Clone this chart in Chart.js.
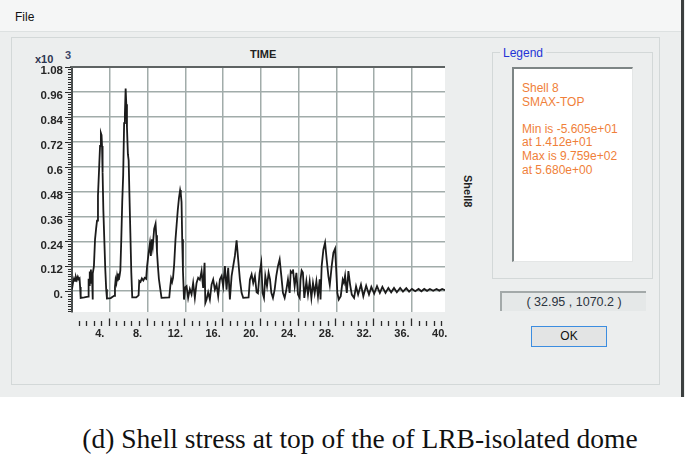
<!DOCTYPE html>
<html>
<head>
<meta charset="utf-8">
<script src="https://cdn.jsdelivr.net/npm/chart.js@4.4.1/dist/chart.umd.min.js"></script>
<style>
  body { margin: 0; width: 685px; height: 460px; background: #fff; position: relative; overflow: hidden;
         font-family: "Liberation Sans", Arial, sans-serif; }
  .abs { position: absolute; }
  #win { left: 0; top: 0; width: 685px; height: 397px; background: #eceeee; }
  #menubar { left: 0; top: 0; width: 681px; height: 31px; background: #f5f6f6; border-bottom: 1px solid #dde1e1; }
  #edge { left: 681px; top: 0; width: 3px; height: 397px; background: #3b3f3f; }
  #frame { left: 11px; top: 37px; width: 647px; height: 346px; border: 1px solid #d3d8d8; }
  #file { left: 15px; top: 10px; font-size: 12px; color: #111; }
  .bold { font-weight: bold; font-size: 11px; color: #222; }
  #groupbox { left: 492px; top: 52px; width: 159px; height: 225px; border: 1px solid #d3d8d8; }
  #legendTitle { left: 500px; top: 46px; padding: 0 3px; background: #eceeee; font-size: 12px; color: #2433d6; }
  #legendBox { left: 512px; top: 67px; width: 118px; height: 192px; background: #fff;
               border-left: 2px solid #7d8585; border-top: 2px solid #7d8585; border-right: 1px solid #e4e6e6; border-bottom: 1px solid #e4e6e6; }
  #legendText { left: 522px; top: 82px; font-size: 12px; line-height: 13.6px; color: #f07f3a; white-space: pre; }
  #coords { left: 500px; top: 291px; width: 144px; height: 18px; background: #e5e8e8; border-left: 2px solid #a3a9a9; border-top: 2px solid #a3a9a9;
            font-size: 12.5px; color: #2c3440; text-align: center; line-height: 18px; }
  #ok { left: 531px; top: 326px; width: 74px; height: 19px; border: 1px solid #3c8de0; background: #e3e4e4;
        font-size: 12px; color: #111; text-align: center; line-height: 19px; }
  #caption { left: 0; top: 425px; width: 720px; text-align: center; font-family: "Liberation Serif", "Times New Roman", serif;
             font-size: 27.5px; line-height: 28px; color: #111; white-space: nowrap; }
  canvas { position: absolute; left: 0; top: 0; }
</style>
</head>
<body>
<div id="win" class="abs"></div>
<div id="menubar" class="abs"></div>
<div id="edge" class="abs"></div>
<div id="frame" class="abs"></div>
<div id="file" class="abs">File</div>

<div class="abs bold" style="left:250px; top:48px;">TIME</div>
<div class="abs bold" style="left:35px; top:53px; color:#2c3550;">x10</div>
<div class="abs bold" style="left:65px; top:49px; color:#3c4668;">3</div>
<div class="abs bold" style="left:452px; top:185px; transform: rotate(90deg); transform-origin: 16px 6px;">Shell8</div>

<div id="groupbox" class="abs"></div>
<div id="legendTitle" class="abs">Legend</div>
<div id="legendBox" class="abs"></div>
<div id="legendText" class="abs">Shell 8
SMAX-TOP

Min is -5.605e+01
at 1.412e+01
Max is 9.759e+02
at 5.680e+00</div>
<div id="coords" class="abs">( 32.95 , 1070.2 )</div>
<div id="ok" class="abs">OK</div>

<div id="caption" class="abs">(d) Shell stress at top of the of LRB-isolated dome</div>

<canvas id="chart" width="685" height="460"></canvas>

<script>
// time history (time in s, stress in plain units; axis shows x10^3)
const timeValues = [
  0.00, 0.12, 0.22, 0.32, 0.42, 0.52, 0.62, 0.72, 0.80, 0.86, 0.92, 1.30, 1.70, 1.76, 1.82, 1.88, 1.94, 2.00, 2.06, 2.12,
  2.17, 2.22, 2.32, 2.44, 2.55, 2.65, 2.75, 2.87, 2.97, 3.06, 3.13, 3.18, 3.24, 3.32, 3.42, 3.52, 3.62, 3.70, 4.10, 4.45,
  4.55, 4.62, 4.70, 4.77, 4.84, 4.90, 4.96, 5.04, 5.12, 5.22, 5.32, 5.42, 5.52, 5.60, 5.68, 5.75, 5.82, 5.92, 6.00, 6.08,
  6.18, 6.28, 6.38, 6.80, 7.05, 7.12, 7.25, 7.40, 7.55, 7.70, 7.85, 7.95, 8.10, 8.25, 8.35, 8.45, 8.55, 8.70, 8.85, 8.92,
  9.00, 9.10, 9.20, 9.35, 9.48, 10.30, 10.40, 10.50, 10.60, 10.70, 10.82, 10.96, 11.08, 11.20, 11.33, 11.45, 11.52, 11.60, 11.67, 11.75,
  11.86, 12.00, 12.13, 12.30, 12.48, 12.66, 12.83, 13.01, 13.19, 13.36, 13.54, 13.72, 13.89, 14.04, 14.12, 14.25, 14.42, 14.60, 14.78, 14.95,
  15.13, 15.31, 15.48, 15.66, 15.84, 16.01, 16.19, 16.37, 16.54, 16.72, 16.90, 17.07, 17.25, 17.43, 17.60, 17.78, 17.96, 18.13, 18.70, 18.84,
  19.02, 19.19, 19.37, 19.55, 19.69, 19.87, 20.04, 20.18, 20.33, 20.47, 20.65, 20.82, 20.97, 21.11, 21.28, 21.46, 21.63, 21.81, 21.99, 22.17,
  22.34, 22.52, 22.70, 22.87, 23.05, 23.16, 23.30, 23.40, 23.58, 23.76, 23.93, 24.11, 24.20, 24.32, 24.45, 24.60, 24.82, 24.99, 25.17, 25.35,
  25.52, 25.70, 25.88, 26.05, 26.23, 26.32, 26.44, 26.62, 26.80, 26.97, 27.15, 27.30, 27.50, 27.68, 27.86, 27.96, 28.10, 28.25, 28.46, 28.67,
  28.80, 28.92, 29.10, 29.27, 29.45, 29.63, 29.87, 30.08, 30.30, 30.60, 30.85, 31.15, 31.45, 31.70, 32.00, 32.30, 32.60, 32.87, 33.20, 33.50,
  33.80, 34.10, 34.40, 34.75, 35.05, 35.40, 35.70, 36.00, 36.35, 36.70, 37.00, 37.30, 37.60, 37.90, 38.25, 38.60, 38.90, 39.20, 39.50
];
const stressValues = [
  10, 45, 62, 50, 68, 55, 70, 58, 62, 20, -32, -30, -26, 60, 30, 95, 40, 105, 55, 80,
  -40, 85, 120, 250, 300, 340, 460, 590, 700, 762, 752, 700, 570, 390, 250, 110, 10, -35, -33, -22,
  20, 55, 40, 70, 48, 85, 55, 75, 100, 250, 430, 560, 810, 850, 976, 900, 790, 660, 630, 470,
  280, 90, -30, -30, -20, 50, 45, 62, 52, 65, 60, 120, 180, 230, 170, 250, 215, 300, 325, 270,
  190, 120, 60, 10, -32, -30, 20, 60, 45, 65, 130, 250, 320, 390, 450, 487, 470, 430, 250, 100,
  -40, 20, 25, -32, 10, -15, 40, -32, 40, 65, 55, 97, 16, 137, -56, -40, -5, -40, 32, 56,
  8, 32, -24, 56, 73, 24, 121, 8, 113, -40, 73, 121, 170, 245, 153, 56, -8, -32, -30, 56,
  81, 40, 73, -5, -10, 89, 137, -8, -32, 73, 24, 89, 57, -8, -32, 8, 73, 121, 153, 73,
  -8, -32, 8, 57, -8, 97, 89, 105, 24, 89, -16, -32, 57, 100, 90, -32, 48, -16, 48, -32,
  40, -10, 48, -24, 57, -40, 121, 200, 234, 153, 73, 30, 121, 185, 205, 121, -8, -40, -24, 56,
  40, 75, -8, 97, 32, -16, -32, 24, -16, 32, -24, 27, -16, 21, -11, 24, -8, 21, -8, 16,
  -5, 16, -5, 16, -2, 15, -2, 11, 0, 11, 0, 11, 2, 11, 2, 11, 3, 11, 5
];

const xTickValues = [4, 8, 12, 16, 20, 24, 28, 32, 36, 40];
const xTickLabels = ['4.', '8.', '12.', '16.', '20.', '24.', '28.', '32.', '36.', '40.'];
const yTickValues = [0, 120, 240, 360, 480, 600, 720, 840, 960, 1080];
const yTickLabels = ['0.', '0.12', '0.24', '0.36', '0.48', '0.6', '0.72', '0.84', '0.96', '1.08'];

const gridColor = '#a1acaa';
const tickFont = { family: 'Liberation Sans', size: 11, weight: 'bold' };

Chart.defaults.font.family = 'Liberation Sans';

/* white plot face, dark top edge and the two tick rulers */
const plotFrame = {
  id: 'plotFrame',
  beforeDraw(chart) {
    const { ctx, chartArea: a } = chart;
    ctx.save();
    ctx.fillStyle = '#fff';
    ctx.fillRect(a.left, a.top, a.right - a.left, a.bottom - a.top);
    ctx.restore();
  },
  afterDraw(chart) {
    const { ctx, chartArea: a, scales } = chart;
    const x = scales.x, y = scales.y;
    ctx.save();
    ctx.strokeStyle = '#5e6363';
    ctx.lineWidth = 2;
    ctx.beginPath();
    ctx.moveTo(a.left - 2, a.top);
    ctx.lineTo(a.right, a.top);
    ctx.stroke();

    // x ruler below the plot, detached from it
    ctx.strokeStyle = '#2b2b2b';
    ctx.lineWidth = 1.3;
    for (let k = 1; k < 50; k++) {
      const px = Math.round(x.getPixelForValue(k * 0.8)) - 0.5;
      const major = k % 5 === 0;
      ctx.beginPath();
      ctx.moveTo(px, a.bottom + (major ? 6.5 : 9));
      ctx.lineTo(px, a.bottom + 14);
      ctx.stroke();
    }

    // y ruler on the left edge
    ctx.lineWidth = 1;
    for (let k = -8; k <= 90; k++) {
      const py = Math.round(y.getPixelForValue(k * 12)) + 0.5;
      const major = k % 10 === 0;
      ctx.beginPath();
      ctx.moveTo(a.left - (major ? 7 : 4), py);
      ctx.lineTo(a.left - 1, py);
      ctx.stroke();
    }
    ctx.restore();
  }
};

new Chart(document.getElementById('chart'), {
  type: 'line',
  data: {
    datasets: [{
      label: 'SMAX-TOP',
      data: timeValues.map((t, i) => ({ x: t, y: stressValues[i] })),
      borderColor: '#1b1b1b',
      borderWidth: 1.8,
      pointRadius: 0,
      tension: 0,
      fill: false
    }]
  },
  options: {
    responsive: false,
    animation: false,
    layout: { padding: { left: 0, top: 67, right: 240, bottom: 118 } },
    plugins: {
      legend: { display: false },
      tooltip: { enabled: false }
    },
    scales: {
      x: {
        type: 'linear',
        min: 0,
        max: 39.5,
        afterBuildTicks: s => { s.ticks = xTickValues.map(v => ({ value: v })); },
        afterFit: s => { s.height = 30; s.paddingLeft = 0; s.paddingRight = 0; },
        ticks: {
          autoSkip: false,
          maxRotation: 0,
          callback: (v, i) => xTickLabels[i],
          padding: 15,
          labelOffset: -10,
          font: tickFont,
          color: '#262626'
        },
        grid: {
          color: c => (c.tick && c.tick.value > 39.5) ? 'rgba(0,0,0,0)' : gridColor,
          lineWidth: 1.5,
          drawTicks: false
        },
        border: { display: false }
      },
      y: {
        min: -100,
        max: 1080,
        afterBuildTicks: s => { s.ticks = yTickValues.map(v => ({ value: v })); },
        afterFit: s => { s.width = 72; },
        ticks: {
          autoSkip: false,
          callback: (v, i) => yTickLabels[i],
          padding: 9,
          labelOffset: 4,
          font: { family: 'Liberation Sans', size: 11.5, weight: 'bold' },
          color: '#262626'
        },
        grid: { color: gridColor, lineWidth: 1.5, drawTicks: false },
        border: { display: true, color: '#4a4e4e', width: 2 }
      }
    }
  },
  plugins: [plotFrame]
});
</script>
</body>
</html>
